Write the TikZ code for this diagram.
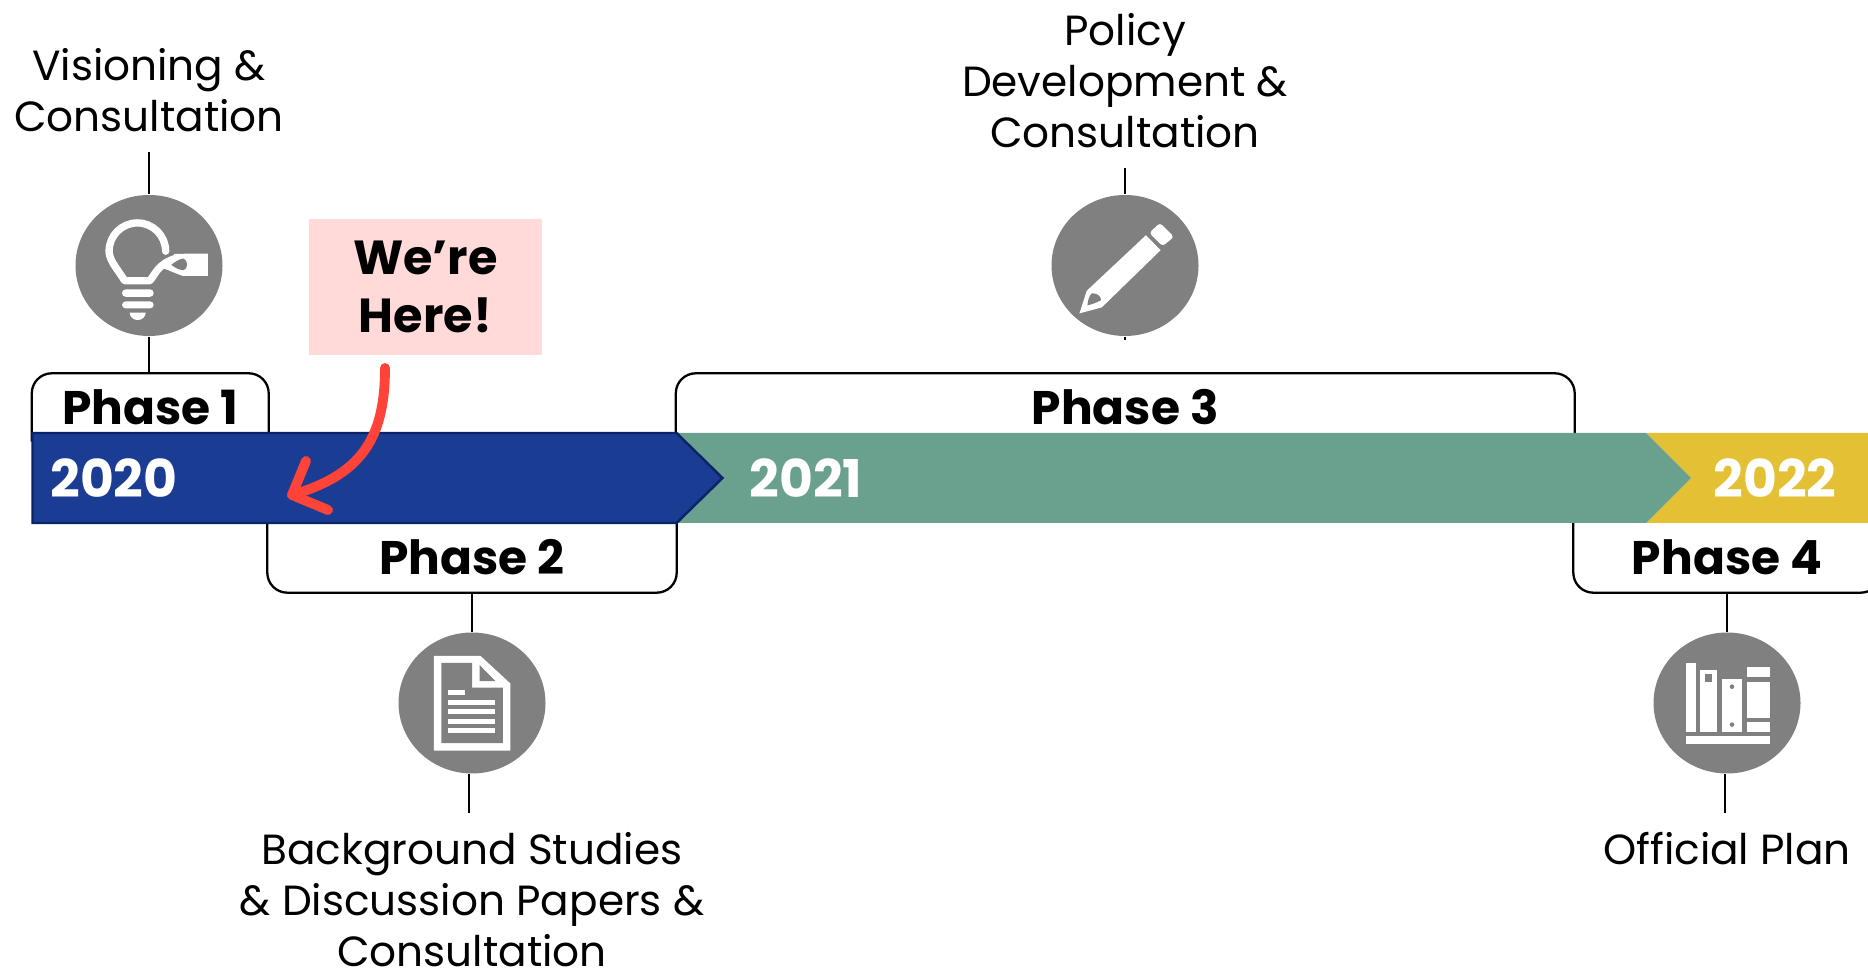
\documentclass[tikz,border=0pt]{standalone}
\usepackage{fontspec}
\setmainfont{Poppins}
\usetikzlibrary{shapes.geometric}
\definecolor{barblue}{HTML}{1B3C93}
\definecolor{baredge}{HTML}{0A2468}
\definecolor{bargreen}{HTML}{69A18E}
\definecolor{baryellow}{HTML}{E3C034}
\definecolor{icongray}{HTML}{808080}
\definecolor{herepink}{HTML}{FFDAD8}
\definecolor{herered}{HTML}{FF4338}

\begin{document}
\begin{tikzpicture}[
    lbl/.style={align=center, inner sep=0pt, font=\fontsize{12}{14.5}\selectfont},
    phase/.style={inner sep=0pt, font=\fontsize{13.4}{15}\selectfont\bfseries},
    phaseup/.style={phase, minimum height=0.67cm},
    phasedown/.style={phase, minimum height=0.69cm},
    yearlbl/.style={inner sep=0pt, text=white, font=\fontsize{14.8}{16}\selectfont\bfseries},
    icon/.style={ellipse, fill=icongray, inner sep=0pt, minimum width=1.47cm, minimum height=1.41cm},
    leader/.style={draw=black, line width=0.65pt},
    bracket/.style={draw=black, line width=0.65pt, rounded corners=0.2cm},
    glyph/.style={fill=white, draw=none},
    gap/.style={fill=icongray, draw=none},
    zoomed/.style={x=0.003333cm, y=-0.003333cm}]
    \useasboundingbox (0,0) rectangle (18.68,9.7);

    % Phase labels
    \node[phaseup, minimum width=2.355cm] (ph1) at (1.5025,5.625) {Phase 1};
    \node[phasedown, minimum width=4.08cm] (ph2) at (4.72,4.125) {Phase 2};
    \node[phaseup, minimum width=8.975cm] (ph3) at (11.2525,5.625) {Phase 3};
    \node[phasedown, minimum width=3.06cm] (ph4) at (17.27,4.125) {Phase 4};

    % Brackets
    \draw[bracket] (ph1.south west) -- (ph1.north west) -- (ph1.north east) -- (ph1.south east);
    \draw[bracket] (ph3.south west) -- (ph3.north west) -- (ph3.north east) -- (ph3.south east);
    \draw[bracket] (ph2.north west) -- (ph2.south west) -- (ph2.south east) -- (ph2.north east);
    \draw[bracket] (ph4.north west) -- (ph4.south west) -- (ph4.south east) -- (ph4.north east);

    % Bar
    \fill[baryellow] (16.46,4.47) -- (18.68,4.47) -- (18.68,5.37) -- (16.46,5.37) -- (16.91,4.92) -- cycle;
    \fill[bargreen] (6.77,4.47) -- (16.46,4.47) -- (16.91,4.92) -- (16.46,5.37) -- (6.77,5.37) -- cycle;
    \draw[baredge, fill=barblue, line width=0.7pt] (0.325,4.47) -- (6.765,4.47) -- (7.225,4.92) -- (6.765,5.37) -- (0.325,5.37) -- cycle;
    \node[yearlbl] (y20) at (1.14,4.92) {2020};
    \node[yearlbl] (y21) at (8.06,4.92) {2021};
    \node[yearlbl] (y22) at (17.75,4.92) {2022};

    % Text labels
    \node[lbl, anchor=south] (vision) at (1.49,8.37) {Visioning \&\\Consultation};
    \node[lbl, anchor=south] (policy) at (11.25,8.21) {Policy\\Development \&\\Consultation};
    \node[lbl, anchor=north] (background) at (4.72,1.38) {Background Studies\\\& Discussion Papers \&\\Consultation};
    \node[lbl, anchor=north] (official) at (17.27,1.38) {Official Plan};

    % Icons
    \node[icon] (idea) at (1.49,7.045) {};
    \node[icon] (pencil) at (11.25,7.045) {};
    \node[icon] (paper) at (4.72,2.67) {};
    \node[icon] (books) at (17.27,2.67) {};

    % Leaders
    \draw[leader] ([yshift=-0.19cm]vision.south) -- (idea.north);
    \draw[leader] (idea.south) -- (idea.south |- ph1.north);
    \draw[leader] ([yshift=-0.19cm]policy.south) -- (pencil.north);
    \draw[leader] (pencil.south) -- ([yshift=-0.03cm]pencil.south);
    \draw[leader] (ph2.south) -- (paper.north);
    \draw[leader] ([xshift=-0.03cm]paper.south) -- ([xshift=-0.03cm,yshift=0.19cm]background.north);
    \draw[leader] (ph4.south) -- (books.north);
    \draw[leader] ([xshift=-0.02cm]books.south) -- ([xshift=-0.02cm,yshift=0.19cm]official.north);

    % Bulb
    \begin{scope}[shift={(idea.center)}, zoomed]
        \draw[white, line width=2.1pt, line cap=round, line join=round] (50,-43) arc[start angle=0, end angle=-180, radius=85] .. controls (-120,-15) and (-95,10) .. (-73,46) -- (2,46) .. controls (18,30) and (25,-5) .. (80,-21);
        \fill[glyph] (77,-35) -- (177,-36) -- (177,31) -- (100,31) -- (42,8) -- cycle;
        \fill[gap] (67,-2) .. controls (80,-12) and (92,-20) .. (104,-21) .. controls (118,-15) and (118,10) .. (104,14) .. controls (92,14) and (80,8) .. (67,-2);
        \fill[glyph, rounded corners=0.035cm] (-81,72) rectangle (14,94);
        \fill[glyph, rounded corners=0.035cm] (-81,108) rectangle (14,129);
        \fill[glyph] (-58,142) -- (-10,142) arc[start angle=0, end angle=-180, x radius=24, y radius=-22] -- cycle;
    \end{scope}

    % Pencil
    \begin{scope}[shift={(pencil.center)}, zoomed]
        \fill[glyph] (63,-91) -- (107,-46) -- (-70,126) -- (-137,144) -- (-115,76) -- cycle;
        \fill[gap] (-113,120) .. controls (-112,105) and (-108,92) .. (-100,84) .. controls (-88,82) and (-72,90) .. (-72,104) .. controls (-85,112) and (-98,116) .. (-113,120);
        \fill[glyph, rounded corners=0.03cm] (105,-128) -- (147,-86) -- (113,-58) -- (73,-98) -- cycle;
    \end{scope}

    % Paper
    \begin{scope}[shift={(paper.center)}, zoomed]
        \fill[glyph] (-115,-142) -- (25,-142) -- (115,-59) -- (115,143) -- (-115,143) -- cycle;
        \fill[gap] (-92,-121) -- (0,-121) -- (0,-46) -- (93,-46) -- (93,121) -- (-92,121) -- cycle;
        \fill[gap] (23,-114) -- (70,-66) -- (23,-66) -- cycle;
        \fill[glyph] (-71,-39) rectangle (-20,-23);
        \foreach \ytop in {-9,17,47,74}
            \fill[glyph] (-71,\ytop) rectangle (70,\ytop+16);
    \end{scope}

    % Books
    \begin{scope}[shift={(books.center)}, zoomed]
        \fill[glyph] (-124,-120) rectangle (-94,87);
        \fill[glyph] (-81,-99) rectangle (-29,86);
        \fill[gap] (-66,-86) rectangle (-44,-63);
        \fill[glyph] (-14,-71) rectangle (45,86);
        \fill[gap] (15,-49) circle[radius=0.023cm];
        \fill[gap] (15,65) circle[radius=0.023cm];
        \fill[glyph] (59,-108) rectangle (128,-77);
        \fill[glyph] (59,-64) rectangle (128,45);
        \fill[glyph] (59,57) rectangle (128,87);
        \fill[glyph] (-124,99) rectangle (128,123);
    \end{scope}

    % We're here
    \node[fill=herepink, minimum width=2.33cm, minimum height=1.36cm, inner sep=0pt, align=center, font=\fontsize{13.6}{16.5}\selectfont\bfseries] (here) at (4.255,6.83) {We’re\\Here!};
    \coordinate (herefrom) at (3.85,6.02);
    \coordinate (hereto) at (2.92,4.75);
    \coordinate (headup) at (3.06,5.09);
    \coordinate (headdown) at (3.28,4.60);

    % Arrow
    \draw[herered, line width=2.8pt, line cap=round, line join=round] (herefrom) .. controls (3.85,5.3) and (3.6,4.95) .. (hereto);
    \draw[herered, line width=2.8pt, line cap=round, line join=round] (headup) -- (hereto) -- (headdown);

\end{tikzpicture}
\end{document}
